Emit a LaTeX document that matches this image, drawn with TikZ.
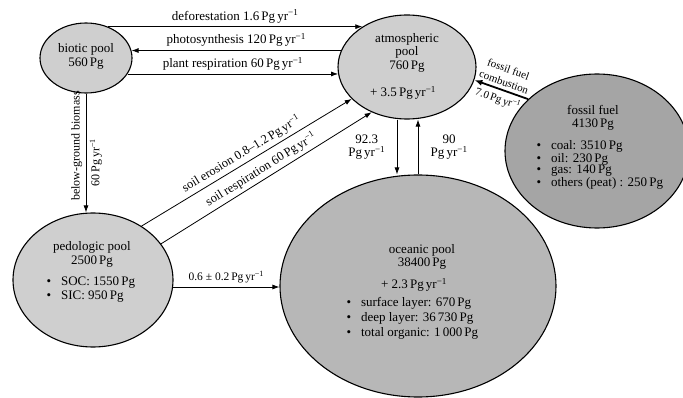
\documentclass[tikz,border=0pt]{standalone}
\usepackage{fontspec}
\setmainfont{Liberation Serif}
\usetikzlibrary{shapes.geometric,arrows.meta,positioning}
\definecolor{p1}{HTML}{CFCFCF}
\definecolor{p2}{HTML}{B7B7B7}
\definecolor{p3}{HTML}{A5A5A5}
\newcommand{\pgyr}{Pg\,yr\textsuperscript{\textminus1}}
\newcommand{\bul}{\textbullet\hspace{10pt}}
\tikzset{
	pool/.style={ellipse, draw, line width=1.1pt, inner sep=0pt},
	flow/.style={-{Latex[length=7pt,width=5pt]}, line width=0.8pt},
	small/.style={font=\fontsize{11.5}{13.5}\selectfont},
}

\begin{document}
\begin{tikzpicture}[x=1pt, y=-1pt, font=\fontsize{13}{13.5}\selectfont]
	\useasboundingbox (0,0) rectangle (683,398); % pixel frame of the reference
	\node[pool, fill=p1, minimum width=92pt, minimum height=70pt] (biotic) at (86,58) {};
	\node[pool, fill=p1, minimum width=138pt, minimum height=104pt] (atmo) at (407,67) {};
	\node[pool, fill=p1, minimum width=160pt, minimum height=134pt] (pedo) at (93,280) {};
	\node[pool, fill=p2, minimum width=276pt, minimum height=222pt] (ocean) at (418,286) {};
	\node[pool, fill=p3, minimum width=184pt, minimum height=154pt] (fossil) at (597,151) {};

	\node[align=center] (biotic-t) at ([yshift=1.5pt]biotic.center) {biotic pool\\560\,Pg};
	\node[align=center] (atmo-t) at ([yshift=14.5pt]atmo.center) {atmospheric\\pool\\760\,Pg};
	\node (atmo-r) at ([xshift=-4pt,yshift=-26pt]atmo.center) {+ 3.5\,\pgyr};
	\node[align=center] (pedo-t) at ([xshift=-1pt,yshift=25.5pt]pedo.center) {pedologic pool\\2500\,Pg};
	\node[align=left, anchor=west, font=\fontsize{13}{14}\selectfont] (pedo-l) at ([xshift=-50pt,yshift=-10pt]pedo.center) {\bul SOC: 1550\,Pg\\\bul SIC: 950\,Pg};
	\node[align=center] (ocean-t) at ([xshift=4pt,yshift=29pt]ocean.center) {oceanic pool\\38400\,Pg};
	\node (ocean-r) at ([xshift=-4pt,yshift=1pt]ocean.center) {+ 2.3\,\pgyr};
	\node[align=left, anchor=west, font=\fontsize{13}{15}\selectfont] (ocean-l) at ([xshift=-75pt,yshift=-32pt]ocean.center) {\bul surface layer: 670\,Pg\\\bul deep layer: 36\,730\,Pg\\\bul total organic: 1\,000\,Pg};
	\node[align=center] (fossil-t) at ([xshift=-4pt,yshift=33pt]fossil.center) {fossil fuel\\4130\,Pg};
	\node[align=left, anchor=west, font=\fontsize{13}{11.5}\selectfont] (fossil-l) at ([xshift=-64pt,yshift=-14pt]fossil.center) {\bul coal: 3510\,Pg\\\bul oil: 230\,Pg\\\bul gas: 140\,Pg\\\bul others (peat) : 250\,Pg};

	% fluxes between biotic and atmospheric pool
	\draw[flow] (biotic.55) -- (biotic.55 -| atmo.138) node[midway, above] {deforestation 1.6\,\pgyr};
	\draw[flow] (atmo.166) -- (atmo.166 -| biotic.9) node[midway, above] {photosynthesis 120\,\pgyr};
	\draw[flow] (biotic.-21) -- (biotic.-21 -| atmo.186) node[midway, above] {plant respiration 60\,\pgyr};
	\draw[flow] (biotic.south) -- (biotic.south |- pedo.north)
		node[pos=0.44, rotate=90, anchor=south, font=\fontsize{12}{13}\selectfont] {below-ground biomass}
		node[pos=0.58, rotate=90, anchor=north, font=\fontsize{12}{13}\selectfont] {60\,\pgyr};

	\draw[flow] (pedo.48) -- (atmo.210) node[midway, sloped, above, font=\fontsize{12.5}{13}\selectfont] {soil erosion 0.8–1.2\,\pgyr};
	\draw[flow] (pedo.28) -- (atmo.232) node[midway, sloped, above, font=\fontsize{12.5}{13}\selectfont] {soil respiration 60\,\pgyr};
	\draw[flow] (pedo.-5) -- (pedo.-5 -| ocean.west) node[midway, above, small] {0.6 ± 0.2\,\pgyr};

	\draw[flow] ([xshift=-10pt]atmo.south) -- ([xshift=-10pt]atmo.south |- ocean.north) node[midway, left=8pt, align=center] {92.3\\\pgyr};
	\draw[flow] (ocean.north) -- (ocean.north |- atmo.south) node[midway, right=9pt, align=center] {90\\\pgyr};

	\draw[-{Latex[length=8pt,width=6pt]}, line width=1.8pt] (fossil.143) -- (atmo.-11)
		node[midway, sloped, above, align=center, font=\fontsize{11}{13.5}\selectfont] {fossil fuel\\combustion}
		node[midway, sloped, below, font=\fontsize{11}{13}\selectfont] {7.0\,\pgyr};
\end{tikzpicture}
\end{document}
